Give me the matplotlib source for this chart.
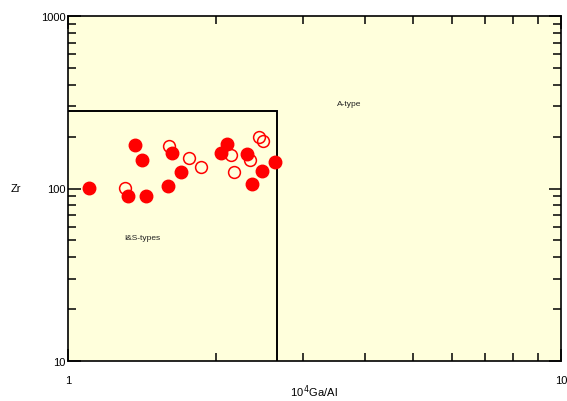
import matplotlib.pyplot as plt
from matplotlib.ticker import LogLocator, NullFormatter, FixedFormatter, FixedLocator

plt.rcParams['font.family'] = ['Liberation Sans', 'DejaVu Sans']

# 10^4 Ga/Al vs Zr, filled and open samples
ga_al_filled = [1.105, 1.368, 1.416, 1.326, 1.439, 1.595, 1.627, 1.695,
                2.046, 2.098, 2.308, 2.359, 2.476, 2.635]
zr_filled = [101, 179, 147, 90.5, 90, 103.4, 160.6, 125,
             161, 180, 157.7, 105.7, 126, 142]
ga_al_open = [1.307, 1.604, 1.762, 1.857, 2.142, 2.167, 2.341, 2.437, 2.483]
zr_open = [100.7, 175.6, 150, 132.7, 156, 124.7, 147, 200, 188]

# I&S-type field boundary
field_x = [1, 2.65, 2.65]
field_y = [283, 283, 10]

fig = plt.figure(figsize=(5.67, 4.02), dpi=100)
ax = fig.add_axes([68 / 567, 40 / 402, 493 / 567, 345 / 402])
ax.set_facecolor('#FFFFDC')
ax.set_xscale('log')
ax.set_yscale('log')
ax.set_xlim(1, 10)
ax.set_ylim(10, 1000)

ax.plot(field_x, field_y, color='black', lw=1.4, solid_joinstyle='miter')

ax.plot(ga_al_filled, zr_filled, 'o', ms=9, color='#FF0000', mec='#FF0000', ls='none')
ax.plot(ga_al_open, zr_open, 'o', ms=8.5, mfc='none', mec='#FF0000', mew=1.1, ls='none')

ax.text(1.414, 51.7, 'I&S-types', fontsize=6, color='#222222', ha='center', va='center')
ax.text(3.71, 309, 'A-type', fontsize=6, color='#222222', ha='center', va='center')

for s in ax.spines.values():
    s.set_linewidth(1.2)

ax.xaxis.set_major_locator(FixedLocator([1, 10]))
ax.xaxis.set_major_formatter(FixedFormatter(['1', '10']))
ax.xaxis.set_minor_locator(LogLocator(base=10, subs=range(2, 10)))
ax.xaxis.set_minor_formatter(NullFormatter())
ax.yaxis.set_major_locator(FixedLocator([10, 100, 1000]))
ax.yaxis.set_major_formatter(FixedFormatter(['10', '100', '1000']))
ax.yaxis.set_minor_locator(LogLocator(base=10, subs=range(2, 10)))
ax.yaxis.set_minor_formatter(NullFormatter())

ax.tick_params(which='both', direction='in', top=True, right=True,
               labelsize=8, width=1.1, color='black')
ax.tick_params(which='major', length=9)
ax.tick_params(which='minor', length=6)
ax.tick_params(axis='x', which='major', pad=10)
ax.tick_params(axis='y', which='major', pad=2)

ax.set_xlabel('10$^{\\,4}$Ga/Al', fontsize=8, labelpad=-2)
ax.set_ylabel('Zr', fontsize=8, rotation=0, labelpad=18, va='center')

fig.savefig('out.png', dpi=100)
